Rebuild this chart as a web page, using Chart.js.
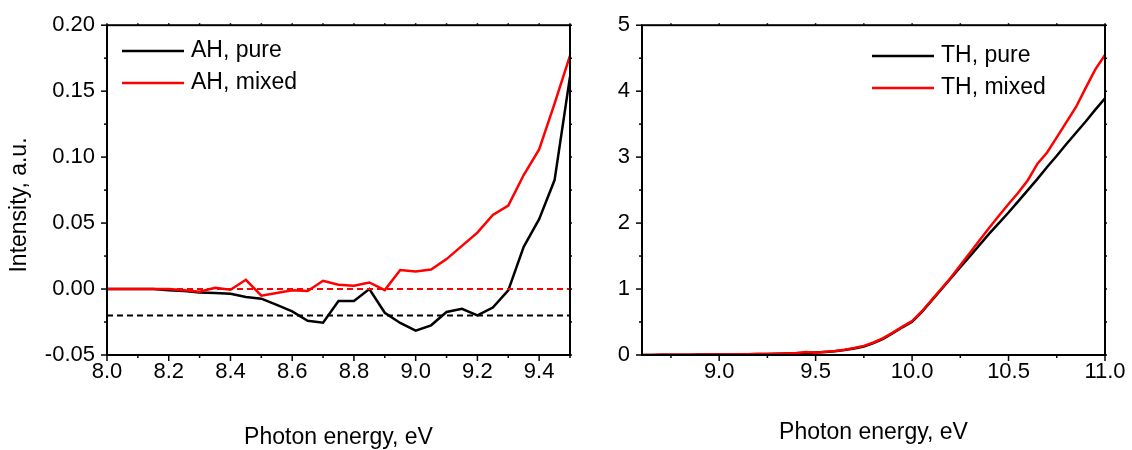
<!DOCTYPE html>
<html>
<head>
<meta charset="utf-8">
<script src="https://cdn.jsdelivr.net/npm/chart.js@4.4.1/dist/chart.umd.min.js"></script>
<style>
    body { margin: 0; background: #fff; }
    #wrap { position: relative; width: 1132px; height: 450px; }
    .box { position: absolute; top: 0; height: 450px; }
</style>
</head>
<body>
<div id="wrap">
    <div class="box" style="left:0;width:600px"><canvas id="ah-chart" width="600" height="450"></canvas></div>
    <div class="box" style="left:600px;width:532px"><canvas id="th-chart" width="532" height="450"></canvas></div>
</div>
<script>
// Font chung
const FONT = '"Liberation Sans", Arial, sans-serif';

// ---- Dữ liệu AH (biểu đồ trái) ----
const ahEnergy = [8.00, 8.05, 8.10, 8.15, 8.20, 8.25, 8.30, 8.35, 8.40, 8.45,
                  8.50, 8.55, 8.60, 8.65, 8.70, 8.75, 8.80, 8.85, 8.90, 8.95,
                  9.00, 9.05, 9.10, 9.15, 9.20, 9.25, 9.30, 9.35, 9.40, 9.45, 9.50];
const ahPure = [0.000, 0.000, 0.000, 0.000, -0.001, -0.0015, -0.0026, -0.003, -0.0036, -0.006,
                -0.0073, -0.012, -0.017, -0.024, -0.0255, -0.009, -0.009, 0.000, -0.018, -0.0257,
                -0.0315, -0.0275, -0.0174, -0.015, -0.020, -0.014, -0.001, 0.032, 0.053, 0.0826, 0.161];
const ahMixed = [0.000, 0.000, 0.000, 0.000, 0.000, -0.001, -0.002, 0.001, -0.0005, 0.007,
                 -0.005, -0.003, -0.001, -0.0015, 0.0063, 0.0033, 0.0025, 0.005, -0.0008, 0.0144,
                 0.0133, 0.0148, 0.0227, 0.0327, 0.0428, 0.0562, 0.0632, 0.0864, 0.1058, 0.1406, 0.177];
// Đường tham chiếu nét đứt
const ahBaseEnergy = [8.0, 9.5];
const ahPureBase = [-0.02, -0.02];
const ahMixedBase = [0.0, 0.0];

const ahXTicks = [8.0, 8.2, 8.4, 8.6, 8.8, 9.0, 9.2, 9.4];
const ahXMinor = [8.1, 8.3, 8.5, 8.7, 8.9, 9.1, 9.3, 9.5];
const ahYTicks = [-0.05, 0.00, 0.05, 0.10, 0.15, 0.20];
const ahYMinor = [-0.025, 0.025, 0.075, 0.125, 0.175];

// ---- Dữ liệu TH (biểu đồ phải) ----
const thEnergy = [8.60, 8.65, 8.70, 8.75, 8.80, 8.85, 8.90, 8.95, 9.00, 9.05,
                  9.10, 9.15, 9.20, 9.25, 9.30, 9.35, 9.40, 9.45, 9.50, 9.55,
                  9.60, 9.65, 9.70, 9.75, 9.80, 9.85, 9.90, 9.95, 10.00, 10.05,
                  10.10, 10.15, 10.20, 10.25, 10.30, 10.35, 10.40, 10.45, 10.50, 10.55,
                  10.60, 10.65, 10.70, 10.75, 10.80, 10.85, 10.90, 10.95, 11.00];
const thPure = [0.000, 0.001, 0.002, 0.003, 0.004, 0.005, 0.006, 0.007, 0.008, 0.009,
                0.011, 0.012, 0.014, 0.016, 0.019, 0.022, 0.026, 0.031, 0.037, 0.046,
                0.058, 0.075, 0.098, 0.130, 0.180, 0.245, 0.330, 0.420, 0.505, 0.650,
                0.820, 0.990, 1.160, 1.330, 1.500, 1.670, 1.840, 2.000, 2.160, 2.330,
                2.500, 2.670, 2.850, 3.020, 3.200, 3.370, 3.540, 3.720, 3.890];
const thMixed = [0.000, 0.001, 0.002, 0.002, 0.004, 0.005, 0.005, 0.007, 0.009, 0.009,
                 0.012, 0.012, 0.015, 0.017, 0.020, 0.022, 0.030, 0.045, 0.035, 0.050,
                 0.062, 0.080, 0.105, 0.138, 0.190, 0.255, 0.340, 0.430, 0.515, 0.660,
                 0.830, 1.000, 1.170, 1.360, 1.550, 1.740, 1.930, 2.110, 2.290, 2.460,
                 2.650, 2.900, 3.070, 3.300, 3.530, 3.760, 4.050, 4.330, 4.550];

const thXTicks = [9.0, 9.5, 10.0, 10.5, 11.0];
const thXMinor = [8.75, 9.25, 9.75, 10.25, 10.75];
const thYTicks = [0, 1, 2, 3, 4, 5];
const thYMinor = [0.5, 1.5, 2.5, 3.5, 4.5];

// Ghép x, y thành điểm
function toPoints(xs, ys) {
    return xs.map((x, i) => ({ x: x, y: ys[i] }));
}

// Plugin vẽ khung, vạch chia, chú thích và tiêu đề trục y
const frameTicks = {
    id: 'frameTicks',
    afterDraw(chart, args, opts) {
        const { ctx, chartArea: a, scales: { x, y } } = chart;
        ctx.save();
        ctx.strokeStyle = '#000';
        ctx.lineWidth = 2;
        ctx.strokeRect(a.left, a.top, a.right - a.left, a.bottom - a.top);

        ctx.lineWidth = 1.5;
        const seg = (x1, y1, x2, y2) => {
            ctx.beginPath();
            ctx.moveTo(x1, y1);
            ctx.lineTo(x2, y2);
            ctx.stroke();
        };
        opts.xMajor.forEach(v => {
            const px = x.getPixelForValue(v);
            seg(px, a.bottom, px, a.bottom + 6);
            seg(px, a.top, px, a.top - 2);
        });
        opts.xMinor.forEach(v => {
            const px = x.getPixelForValue(v);
            seg(px, a.bottom, px, a.bottom + 3);
            seg(px, a.top, px, a.top - 2);
        });
        opts.yMajor.forEach(v => {
            const py = y.getPixelForValue(v);
            seg(a.left, py, a.left - 6, py);
            seg(a.right, py, a.right + 2, py);
        });
        opts.yMinor.forEach(v => {
            const py = y.getPixelForValue(v);
            seg(a.left, py, a.left - 3, py);
            seg(a.right, py, a.right + 2, py);
        });

        // Chú thích bên trong vùng vẽ
        const lg = opts.legend;
        ctx.font = '23px ' + FONT;
        ctx.textBaseline = 'middle';
        ctx.textAlign = 'left';
        let row = 0;
        chart.data.datasets.forEach(ds => {
            if (!ds.label) return;
            const ly = lg.y + row * lg.dy;
            ctx.strokeStyle = ds.borderColor;
            ctx.lineWidth = 2.5;
            seg(lg.x, ly, lg.x + lg.len, ly);
            ctx.fillStyle = '#000';
            ctx.fillText(ds.label, lg.x + lg.len + lg.gap, ly);
            row++;
        });

        // Tiêu đề trục y
        if (opts.yTitle) {
            ctx.translate(opts.yTitle.x, opts.yTitle.y);
            ctx.rotate(-Math.PI / 2);
            ctx.textAlign = 'center';
            ctx.fillStyle = '#000';
            ctx.fillText(opts.yTitle.text, 0, 0);
        }
        ctx.restore();
    }
};

function lineSet(label, pts, color, dash) {
    return {
        label: label,
        data: pts,
        borderColor: color,
        borderWidth: dash ? 2 : 2.5,
        borderDash: dash ? [6, 4] : [],
        pointRadius: 0,
        tension: 0,
        fill: false
    };
}

function makeChart(canvasId, datasets, cfg) {
    return new Chart(document.getElementById(canvasId), {
        type: 'line',
        data: { datasets: datasets },
        options: {
            responsive: false,
            animation: false,
            layout: { padding: { top: 24, right: cfg.padRight, left: 0, bottom: 0 } },
            plugins: {
                legend: { display: false },
                tooltip: { enabled: false },
                frameTicks: {
                    xMajor: cfg.xTicks, xMinor: cfg.xMinor,
                    yMajor: cfg.yTicks, yMinor: cfg.yMinor,
                    legend: cfg.legend,
                    yTitle: cfg.yTitle
                }
            },
            scales: {
                x: {
                    type: 'linear',
                    min: cfg.xMin,
                    max: cfg.xMax,
                    grid: { display: false, drawTicks: false },
                    border: { display: false },
                    afterBuildTicks: s => { s.ticks = cfg.xTicks.map(v => ({ value: v })); },
                    afterFit: s => { s.height = 95; },
                    ticks: {
                        font: { family: FONT, size: 22 },
                        color: '#000',
                        padding: 4,
                        maxRotation: 0,
                        autoSkip: false,
                        callback: v => v.toFixed(1)
                    },
                    title: {
                        display: true,
                        text: 'Photon energy, eV',
                        color: '#000',
                        font: { family: FONT, size: 23 },
                        padding: { top: 0, bottom: cfg.xTitlePad }
                    }
                },
                y: {
                    min: cfg.yMin,
                    max: cfg.yMax,
                    grid: { display: false, drawTicks: false },
                    border: { display: false },
                    afterBuildTicks: s => { s.ticks = cfg.yTicks.map(v => ({ value: v })); },
                    afterFit: s => { s.width = cfg.yWidth; },
                    ticks: {
                        font: { family: FONT, size: 22 },
                        color: '#000',
                        padding: 12,
                        callback: v => v.toFixed(cfg.yDigits)
                    }
                }
            }
        },
        plugins: [frameTicks]
    });
}

// Biểu đồ AH
const ahPureSet = lineSet('AH, pure', toPoints(ahEnergy, ahPure), '#000000');
const ahMixedSet = lineSet('AH, mixed', toPoints(ahEnergy, ahMixed), '#ff0000');
ahPureSet.order = 2;
ahMixedSet.order = 1;
makeChart('ah-chart', [
    ahPureSet,
    ahMixedSet,
    lineSet('', toPoints(ahBaseEnergy, ahMixedBase), '#ff0000', true),
    lineSet('', toPoints(ahBaseEnergy, ahPureBase), '#000000', true)
], {
    xMin: 8.0, xMax: 9.5, yMin: -0.05, yMax: 0.20,
    xTicks: ahXTicks, xMinor: ahXMinor, yTicks: ahYTicks, yMinor: ahYMinor,
    yDigits: 2, yWidth: 107, padRight: 30, xTitlePad: -1,
    legend: { x: 122, y: 51, dy: 32, len: 62, gap: 7 },
    yTitle: { text: 'Intensity, a.u.', x: 20, y: 205 }
});

// Biểu đồ TH
const thPureSet = lineSet('TH, pure', toPoints(thEnergy, thPure), '#000000');
const thMixedSet = lineSet('TH, mixed', toPoints(thEnergy, thMixed), '#ff0000');
thPureSet.order = 2;
thMixedSet.order = 1;
makeChart('th-chart', [thPureSet, thMixedSet], {
    xMin: 8.6, xMax: 11.0, yMin: 0, yMax: 5,
    xTicks: thXTicks, xMinor: thXMinor, yTicks: thYTicks, yMinor: thYMinor,
    yDigits: 0, yWidth: 42, padRight: 27, xTitlePad: 4,
    legend: { x: 272, y: 56, dy: 32, len: 62, gap: 7 },
    yTitle: null
});
</script>
</body>
</html>
